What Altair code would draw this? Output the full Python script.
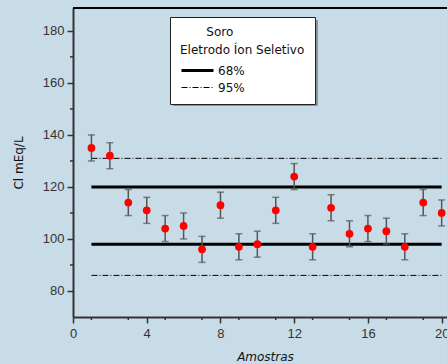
import altair as alt
import pandas as pd

# Cloreto (mEq/L) medido por eletrodo de íon seletivo em 20 amostras de soro
amostra = list(range(1, 21))
cloreto = [135, 132, 114, 111, 104, 105, 96, 113, 97, 98,
           111, 124, 97, 112, 102, 104, 103, 97, 114, 110]
erro = [5] * 20

# Limites de confiança
nivel = ["68%", "68%", "95%", "95%"]
limite = [98, 120, 86, 131]
x_inicio = [1, 1, 1, 1]
x_fim = [20, 20, 20, 20]

y_maiores = [80, 100, 120, 140, 160, 180]
y_menores = [90, 110, 130, 150, 170]
x_maiores = list(range(0, 21, 2))
x_menores = list(range(1, 20, 2))

pontos = pd.DataFrame({"amostra": amostra, "cl": cloreto, "erro": erro})
pontos["lo"] = pontos["cl"] - pontos["erro"]
pontos["hi"] = pontos["cl"] + pontos["erro"]
limites = pd.DataFrame({"nivel": nivel, "y": limite, "x1": x_inicio, "x2": x_fim})

xs = alt.Scale(domain=[0, 20.29], nice=False, zero=False)
ys = alt.Scale(domain=[70, 188.8], nice=False, zero=False)

FONTE_TXT = "DejaVu Sans"
FONTE_NUM = "Liberation Sans"

x_axis = alt.Axis(values=x_maiores, title="Amostras", titleFont=FONTE_TXT,
                  titleFontSize=12, titleFontStyle="italic", titleFontWeight="normal",
                  titleColor="#111", titlePadding=11, titleX=192, titleAlign="center",
                  labelFont=FONTE_NUM,
                  labelFontSize=13, labelColor="#333", tickSize=6, tickColor="#333",
                  domainColor="#333", domainWidth=2, tickWidth=1.5, labelPadding=4,
                  grid=False, labelFlush=False)
y_axis = alt.Axis(values=y_maiores, title="Cl mEq/L", titleFont=FONTE_TXT,
                  titleFontSize=12, titleFontWeight="normal", titleColor="#111",
                  titlePadding=17, labelFont=FONTE_NUM, labelFontSize=13,
                  labelColor="#333", tickSize=6, tickColor="#333", domainColor="#333",
                  domainWidth=2, tickWidth=1.5, labelPadding=3, grid=False)

base = alt.Chart(pontos)

barras = base.mark_rule(color="#555", strokeWidth=1.5).encode(
    x=alt.X("amostra:Q", scale=xs, axis=x_axis),
    y=alt.Y("lo:Q", scale=ys, axis=y_axis),
    y2="hi:Q",
)
topo = base.mark_tick(color="#555", thickness=1.5, size=7, orient="horizontal").encode(
    x=alt.X("amostra:Q", scale=xs), y=alt.Y("hi:Q", scale=ys))
fundo = base.mark_tick(color="#555", thickness=1.5, size=7, orient="horizontal").encode(
    x=alt.X("amostra:Q", scale=xs), y=alt.Y("lo:Q", scale=ys))
circulos = base.mark_circle(color="#ff0000", opacity=1, size=60).encode(
    x=alt.X("amostra:Q", scale=xs), y=alt.Y("cl:Q", scale=ys))

linhas = alt.Chart(limites).mark_rule(color="black").encode(
    x=alt.X("x1:Q", scale=xs),
    x2="x2:Q",
    y=alt.Y("y:Q", scale=ys),
    strokeDash=alt.StrokeDash(
        "nivel:N",
        scale=alt.Scale(domain=["68%", "95%"], range=[[1, 0], [6, 2, 1, 2]]),
        legend=alt.Legend(
            title=["\u2800\u2800\u2800Soro", "Eletrodo Íon Seletivo"],
            orient="none", legendX=97, legendY=9,
            fillColor="white", strokeColor="#222", padding=10,
            titleFont=FONTE_TXT, titleFontSize=12, titleFontWeight="normal",
            titleColor="#111", titleLineHeight=18, titlePadding=2,
            labelFont=FONTE_TXT, labelFontSize=12, labelColor="#111",
            # amostra de linha longa, desenhada à direita do centro do símbolo
            symbolType="M-1,0H2.2", symbolSize=400, symbolStrokeColor="black",
            rowPadding=-2, labelOffset=15,
        ),
    ),
    strokeWidth=alt.StrokeWidth(
        "nivel:N",
        scale=alt.Scale(domain=["68%", "95%"], range=[3, 1]),
    ),
)

# sombra da caixa da legenda
sombra = alt.Chart(pd.DataFrame({"v": [0]})).mark_rect(color="#8a949a").encode(
    x=alt.value(100), x2=alt.value(245), y=alt.value(12), y2=alt.value(98))

# marcas menores dos eixos
menores_y = alt.Chart(pd.DataFrame({"v": y_menores})).mark_rule(
    color="#333", strokeWidth=1.5).encode(
    y=alt.Y("v:Q", scale=ys), x=alt.value(0), x2=alt.value(-3))
menores_x = alt.Chart(pd.DataFrame({"v": x_menores})).mark_rule(
    color="#333", strokeWidth=1.5).encode(
    x=alt.X("v:Q", scale=xs), y=alt.value(309), y2=alt.value(312))

# linha superior do quadro
moldura = alt.Chart(pd.DataFrame({"v": [0]})).mark_rule(
    color="black", strokeWidth=2).encode(
    y=alt.value(0), x=alt.value(0), x2=alt.value(374))

chart = alt.layer(
    sombra, linhas, barras, topo, fundo, circulos, menores_y, menores_x, moldura
).properties(
    width=374, height=309,
    autosize=alt.AutoSizeParams(type="none"),
    padding={"left": 73, "top": 8, "right": 0, "bottom": 47},
    background="#c8dce8",
).configure_view(stroke=None)

chart.save("out.html", embed_options={"renderer": "svg", "actions": False})
